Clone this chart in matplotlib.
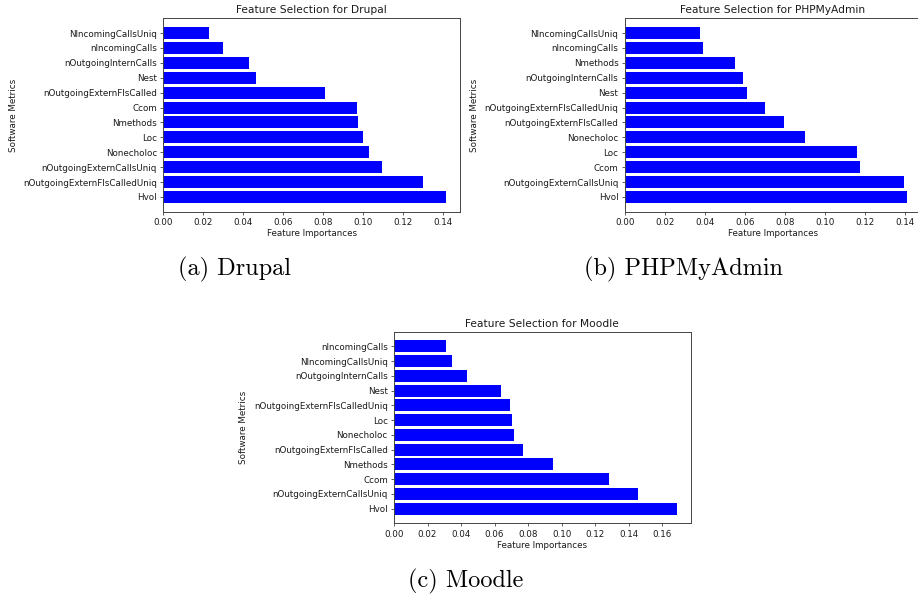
import matplotlib
matplotlib.use("Agg")
import matplotlib.pyplot as plt

# Drupal
drupal_metrics = ["Hvol", "nOutgoingExternFlsCalledUniq", "nOutgoingExternCallsUniq",
                  "Nonecholoc", "Loc", "Nmethods", "Ccom", "nOutgoingExternFlsCalled",
                  "Nest", "nOutgoingInternCalls", "nIncomingCalls", "NIncomingCallsUniq"]
drupal_values = [0.1412, 0.1300, 0.1095, 0.1030, 0.1000, 0.0975, 0.0967, 0.0808,
                 0.0463, 0.0430, 0.0297, 0.0230]

# PHPMyAdmin
php_metrics = ["Hvol", "nOutgoingExternCallsUniq", "Ccom", "Loc", "Nonecholoc",
               "nOutgoingExternFlsCalled", "nOutgoingExternFlsCalledUniq", "Nest",
               "nOutgoingInternCalls", "Nmethods", "nIncomingCalls", "NIncomingCallsUniq"]
php_values = [0.1412, 0.1397, 0.1178, 0.1162, 0.0900, 0.0795, 0.0700, 0.0612,
              0.0590, 0.0553, 0.0390, 0.0378]

# Moodle
moodle_metrics = ["Hvol", "nOutgoingExternCallsUniq", "Ccom", "Nmethods",
                  "nOutgoingExternFlsCalled", "Nonecholoc", "Loc",
                  "nOutgoingExternFlsCalledUniq", "Nest", "nOutgoingInternCalls",
                  "NIncomingCallsUniq", "nIncomingCalls"]
moodle_values = [0.1686, 0.1453, 0.1282, 0.0948, 0.0771, 0.0716, 0.0702, 0.0692,
                 0.0638, 0.0433, 0.0348, 0.0310]

titles = ["Feature Selection for Drupal", "Feature Selection for PHPMyAdmin",
          "Feature Selection for Moodle"]
captions = ["(a) Drupal", "(b) PHPMyAdmin", "(c) Moodle"]

W, H = 918, 597
fig = plt.figure(figsize=(W / 100, H / 100), dpi=100)

def rect(left, top, right, bottom):
    return [left / W, 1 - bottom / H, (right - left) / W, (bottom - top) / H]

axes_rects = [rect(163.3, 18.3, 460.0, 211.7),
              rect(624.7, 18.3, 921.4, 211.7),
              rect(394.0, 331.7, 690.7, 523.3)]
datasets = [(drupal_metrics, drupal_values), (php_metrics, php_values),
            (moodle_metrics, moodle_values)]

TICK = 6.3
TXT = "#1a1a1a"
for (metrics, values), r, title in zip(datasets, axes_rects, titles):
    ax = fig.add_axes(r)
    ax.barh(metrics, values, color="blue", height=0.8)
    ax.set_title(title, fontsize=7.7, pad=3.5, color=TXT)
    ax.set_xlabel("Feature Importances", fontsize=TICK, labelpad=1.5, color=TXT)
    ax.set_ylabel("Software Metrics", fontsize=TICK, labelpad=4, color=TXT)
    ax.tick_params(labelsize=TICK, length=2.5, width=0.6, pad=2,
                   labelcolor=TXT, color="#444444")
    for s in ax.spines.values():
        s.set_linewidth(0.7)
        s.set_color("#444444")
    ax.xaxis.set_major_formatter(matplotlib.ticker.FormatStrFormatter("%.2f"))

cap_pos = [(234.5, 269.5), (683, 269.5), (466, 581)]
for (x, y), c in zip(cap_pos, captions):
    fig.text(x / W, 1 - y / H, c, family="cmr10", fontsize=17.5,
             ha="center", va="center")

fig.savefig("out.png", dpi=100)
